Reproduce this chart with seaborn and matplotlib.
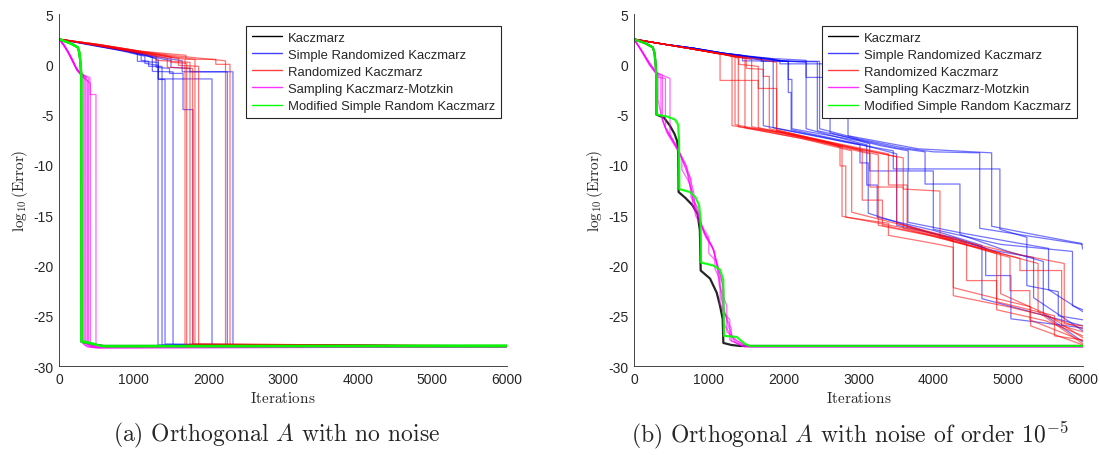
import pandas as pd
import matplotlib
matplotlib.use("Agg")
import matplotlib.pyplot as plt
import seaborn as sns
from matplotlib.lines import Line2D

sns.set_theme(style="white")
plt.rcParams["font.family"] = ["Liberation Sans", "DejaVu Sans"]
plt.rcParams["mathtext.fontset"] = "cm"
plt.rcParams["axes.unicode_minus"] = False

methods = ["Kaczmarz", "Simple Randomized Kaczmarz", "Randomized Kaczmarz",
           "Sampling Kaczmarz-Motzkin", "Modified Simple Random Kaczmarz"]
colors = ["black", "blue", "red", "magenta", "lime"]
x_ticks = [0, 1000, 2000, 3000, 4000, 5000, 6000]
y_ticks = [5, 0, -5, -10, -15, -20, -25, -30]

# ---- (a) no noise: each run is a list of (iteration, log10 error) vertices
left_kacz = [
    [(0, 2.5), (150, 2.1), (250, 1.7), (272, 1.2), (286, 0.2), (296, -0.9), (302, -27.6), (420, -27.8), (600, -28.0), (6000, -28.0)],
]
left_srk = [
    [(0, 2.5), (400, 2.0), (800, 1.5), (1050, 1.1), (1050, 0.3), (1326, 0.2), (1326, -27.9), (6000, -28.0)],
    [(0, 2.5), (400, 2.0), (800, 1.4), (1100, 0.9), (1100, 0.4), (1200, 0.3), (1200, -0.2), (1380, -0.2), (1380, -27.9), (6000, -28.0)],
    [(0, 2.5), (500, 1.8), (900, 1.3), (1150, 0.8), (1150, 0.1), (1330, -0.1), (1330, -1.5), (1420, -1.5), (1420, -27.8), (6000, -28.05)],
    [(0, 2.5), (500, 1.9), (1000, 1.2), (1250, 0.7), (1250, -0.7), (1527, -0.75), (1527, -27.9), (6000, -28.0)],
    [(0, 2.5), (500, 1.9), (1000, 1.3), (1300, 0.6), (1300, -0.3), (1480, -0.4), (1480, -0.9), (1661, -0.9), (1661, -4.5), (1795, -4.5), (1795, -27.9), (6000, -28.0)],
    [(0, 2.5), (500, 1.9), (1000, 1.2), (1330, 0.5), (1330, -1.45), (2049, -1.45), (2049, -27.9), (6000, -28.05)],
    [(0, 2.5), (600, 1.8), (1100, 1.1), (1400, 0.5), (1500, 0.4), (1500, -0.3), (1754, -0.4), (1754, -0.74), (2254, -0.74), (2254, -27.9), (6000, -28.0)],
    [(0, 2.5), (600, 1.7), (1150, 1.0), (1450, 0.6), (1650, 0.35), (1650, -0.74), (2330, -0.74), (2330, -27.9), (6000, -28.0)],
]
left_rk = [
    [(0, 2.5), (500, 1.9), (1000, 1.3), (1400, 0.8), (1688, 0.5), (1688, -27.9), (6000, -28.0)],
    [(0, 2.5), (500, 1.9), (1000, 1.3), (1400, 0.9), (1500, 0.7), (1500, 0.2), (1710, 0.1), (1710, -27.9), (6000, -28.05)],
    [(0, 2.5), (500, 2.0), (1000, 1.4), (1300, 0.9), (1300, 0.4), (1754, 0.2), (1754, -27.8), (6000, -28.0)],
    [(0, 2.5), (500, 1.9), (1000, 1.2), (1450, 0.6), (1450, -0.3), (1790, -0.4), (1790, -27.9), (6000, -28.0)],
    [(0, 2.5), (500, 2.0), (1000, 1.4), (1500, 0.8), (1821, 0.5), (1821, -27.8), (6000, -28.0)],
    [(0, 2.5), (500, 1.9), (1000, 1.3), (1600, 0.6), (1600, -0.1), (1870, -0.2), (1870, -27.9), (6000, -28.0)],
    [(0, 2.5), (500, 2.0), (1000, 1.4), (1500, 0.9), (1900, 0.6), (2230, 0.35), (2230, -27.9), (6000, -28.0)],
    [(0, 2.5), (600, 1.9), (1100, 1.3), (1700, 0.9), (1700, 0.5), (2100, 0.5), (2100, 0.0), (2290, 0.0), (2290, -27.9), (6000, -28.0)],
]
left_skm = [
    [(0, 2.5), (60, 2.0), (120, 1.3), (180, 0.5), (230, -0.3), (280, -0.8), (325, -1.0), (325, -27.8), (380, -28.1), (6000, -28.1)],
    [(0, 2.5), (60, 2.0), (120, 1.2), (180, 0.4), (230, -0.4), (290, -0.9), (345, -1.3), (345, -27.9), (420, -28.15), (6000, -28.1)],
    [(0, 2.5), (60, 1.9), (120, 1.2), (180, 0.3), (240, -0.5), (300, -0.9), (360, -1.2), (360, -27.8), (450, -28.1), (6000, -28.1)],
    [(0, 2.5), (60, 2.0), (120, 1.3), (180, 0.4), (240, -0.6), (300, -1.1), (380, -1.6), (380, -27.9), (480, -28.2), (6000, -28.1)],
    [(0, 2.5), (60, 2.0), (120, 1.2), (180, 0.4), (230, -0.4), (290, -1.0), (395, -1.4), (395, -27.8), (500, -28.1), (6000, -28.1)],
    [(0, 2.5), (60, 1.9), (120, 1.2), (180, 0.3), (240, -0.6), (310, -1.2), (420, -1.9), (420, -27.9), (520, -28.2), (6000, -28.1)],
    [(0, 2.5), (60, 2.0), (120, 1.3), (180, 0.4), (240, -0.5), (300, -1.0), (415, -1.3), (415, -3.0), (495, -3.0), (495, -27.9), (560, -28.1), (6000, -28.1)],
]
left_msrk = [
    [(0, 2.5), (150, 2.1), (250, 1.7), (272, 1.2), (286, 0.2), (296, -0.9), (300, -27.5), (430, -27.7), (560, -28.0), (6000, -27.95)],
    [(0, 2.5), (150, 2.1), (250, 1.7), (275, 1.1), (290, 0.0), (300, -1.0), (305, -27.6), (450, -27.8), (600, -28.05), (6000, -28.05)],
]

# ---- (b) noise of order 1e-5
right_kacz = [
    [(0, 2.5), (150, 2.1), (250, 1.7), (272, 1.2), (286, 0.3), (296, -0.9), (300, -5.0), (400, -5.3), (480, -6.1), (540, -6.9), (575, -7.6), (592, -8.6),
     (596, -12.7), (690, -13.3), (780, -14.0), (850, -14.9), (880, -16.5), (891, -20.5), (1016, -21.3), (1105, -22.7), (1149, -24.0),
     (1185, -25.3), (1194, -27.7), (1300, -27.9), (1416, -28.0), (6000, -28.0)],
]
right_srk = [
    [(0, 2.5), (400, 2.0), (800, 1.6), (1200, 1.1), (1500, 0.8), (1800, 0.5), (1950, 0.35), (1950, 0.05), (2860, 0.05), (2860, -7.1),
     (3800, -8.4), (4780, -8.8), (4780, -16.1), (5400, -17.0), (5900, -17.7), (5980, -17.8), (6000, -18.4)],
    [(0, 2.5), (400, 2.0), (800, 1.5), (1200, 1.1), (1450, 0.9), (1450, 0.35), (2480, 0.3), (2480, -6.4), (3000, -7.4), (3600, -8.3),
     (4000, -8.7), (4620, -8.8), (4620, -16.3), (5300, -17.1), (6000, -17.9)],
    [(0, 2.5), (400, 2.0), (800, 1.6), (1200, 1.1), (1700, 0.6), (1700, 0.3), (2060, 0.3), (2060, -1.5), (2110, -1.5), (2110, -6.4),
     (3000, -7.6), (3150, -7.9), (3150, -10.6), (3660, -10.6), (3660, -15.7), (4400, -16.8), (5000, -17.6), (5540, -18.3),
     (5540, -22.4), (6000, -24.6)],
    [(0, 2.5), (400, 2.0), (800, 1.6), (1200, 1.1), (1600, 0.7), (1860, 0.5), (1860, -6.3), (2800, -7.7), (3465, -8.6), (3465, -10.4),
     (4890, -10.4), (4890, -16.4), (5250, -17.2), (5250, -22.0), (5670, -22.6), (5670, -25.0), (6000, -25.4)],
    [(0, 2.5), (400, 2.0), (800, 1.5), (1200, 1.0), (1700, 0.5), (2300, 0.2), (2300, -6.4), (3000, -7.8), (3110, -8.0), (3110, -12.0),
     (3250, -12.0), (3250, -15.2), (4000, -16.5), (4650, -18.0), (4650, -23.3), (5100, -24.2), (5600, -25.2), (6000, -26.0)],
    [(0, 2.5), (400, 2.0), (800, 1.6), (1200, 1.0), (1500, 0.6), (1728, 0.4), (1728, -6.1), (2500, -7.2), (3020, -8.0), (3020, -9.8),
     (3130, -9.8), (3130, -14.8), (3900, -16.6), (4800, -18.5), (5340, -19.2), (5340, -23.2), (6000, -26.5)],
    [(0, 2.5), (400, 2.0), (800, 1.6), (1200, 1.1), (1800, 0.6), (2000, 0.3), (2450, 0.25), (2450, -6.6), (3500, -8.3), (3890, -8.7),
     (3890, -11.9), (4356, -11.9), (4356, -16.9), (5000, -18.6), (5470, -19.6), (5470, -24.8), (6000, -27.6)],
    [(0, 2.5), (400, 2.0), (800, 1.6), (1200, 1.1), (1600, 0.7), (2062, 0.3), (2062, -2.8), (2100, -2.8), (2100, -6.5), (3000, -7.9),
     (3510, -8.9), (3510, -16.0), (4300, -17.3), (4700, -18.3), (4700, -21.0), (5037, -21.0), (5037, -25.3), (6000, -26.2)],
    [(0, 2.5), (400, 2.0), (800, 1.6), (1200, 1.1), (1500, 0.8), (1800, 0.6), (2300, 0.4), (2300, -1.3), (2620, -1.3), (2620, -6.8),
     (3300, -8.1), (3665, -8.6), (3665, -10.6), (4000, -10.6), (4000, -16.4), (4900, -17.9), (5860, -18.6), (5860, -24.0), (6000, -24.4)],
]
right_rk = [
    [(0, 2.5), (400, 2.0), (800, 1.5), (1100, 1.1), (1310, 0.8), (1310, -6.1), (2000, -6.8), (2780, -8.2), (2780, -15.1), (3700, -16.4),
     (4267, -17.5), (4267, -23.0), (5000, -24.1), (5500, -25.0), (6000, -26.3)],
    [(0, 2.5), (400, 2.0), (800, 1.5), (1200, 1.0), (1394, 0.6), (1394, -6.2), (2200, -7.3), (2909, -8.6), (2909, -14.7), (3700, -16.2),
     (4445, -17.8), (4445, -21.5), (4846, -21.5), (4846, -24.4), (5500, -25.5), (6000, -27.0)],
    [(0, 2.5), (400, 2.0), (800, 1.5), (1150, 1.0), (1150, -1.6), (1483, -1.6), (1483, -6.3), (2400, -7.6), (3154, -8.9), (3154, -12.2),
     (3598, -12.2), (3598, -16.3), (4500, -18.1), (5025, -19.2), (5025, -22.5), (5290, -22.5), (5290, -25.4), (6000, -27.5)],
    [(0, 2.5), (400, 2.0), (800, 1.5), (1200, 1.0), (1572, 0.5), (1572, -6.2), (2500, -7.6), (3265, -9.0), (3265, -16.0), (4000, -17.1),
     (4800, -18.6), (5158, -19.3), (5158, -20.5), (5715, -20.5), (5715, -26.0), (6000, -26.6)],
    [(0, 2.5), (400, 2.0), (800, 1.5), (1200, 1.0), (1400, 0.7), (1400, 0.0), (1661, -0.2), (1661, -2.4), (1906, -2.4), (1906, -6.5),
     (2800, -8.1), (3510, -9.2), (3510, -15.8), (4300, -17.3), (4900, -18.8), (4900, -22.8), (5500, -24.8), (6000, -27.2)],
    [(0, 2.5), (400, 2.0), (800, 1.5), (1200, 1.0), (1500, 0.6), (1500, -0.4), (1728, -0.5), (1728, -1.2), (1808, -1.2), (1808, -6.4),
     (3000, -8.4), (3598, -9.3), (3598, -12.4), (4089, -12.6), (4089, -17.2), (4700, -18.4), (5400, -19.8), (5400, -24.6), (6000, -27.8)],
    [(0, 2.5), (400, 2.0), (800, 1.5), (1200, 1.0), (1350, 0.8), (1350, -6.0), (2200, -7.2), (3050, -8.6), (3050, -13.5), (3320, -13.5),
     (3320, -16.0), (4100, -17.2), (4846, -18.8), (4846, -23.6), (5620, -25.0), (5620, -27.0), (6000, -27.4)],
    [(0, 2.5), (400, 2.0), (800, 1.5), (1200, 1.0), (1600, 0.6), (1906, 0.2), (1906, -6.6), (2800, -8.0), (3400, -8.9), (3400, -12.0),
     (3650, -12.0), (3650, -16.2), (4400, -17.6), (5200, -19.0), (5750, -19.8), (5750, -25.8), (6000, -26.0)],
    [(0, 2.5), (400, 2.0), (800, 1.5), (1200, 1.0), (1483, 0.6), (1483, -1.6), (1661, -1.6), (1661, -6.3), (2600, -7.8), (2753, -8.2),
     (2753, -10.1), (2830, -10.1), (2830, -15.2), (3400, -15.8), (3400, -17.0), (4000, -17.8), (4267, -18.2), (4267, -22.2),
     (4800, -23.2), (5300, -24.1), (5300, -26.0), (6000, -27.9)],
]
right_skm = [
    [(0, 2.5), (100, 1.4), (200, 0.2), (280, -0.7), (320, -1.0), (320, -3.5), (370, -5.3), (440, -6.8), (570, -8.4), (700, -10.1),
     (750, -12.1), (840, -14.4), (930, -16.7), (1060, -18.4), (1130, -20.7), (1170, -23.3), (1260, -26.0), (1330, -27.3), (1500, -28.0), (6000, -28.0)],
    [(0, 2.5), (100, 1.3), (200, 0.0), (300, -0.9), (360, -1.2), (360, -5.0), (420, -6.3), (560, -8.0), (640, -9.3), (640, -10.5),
     (720, -11.5), (780, -12.6), (780, -14.0), (880, -15.5), (960, -17.2), (1080, -18.6), (1080, -20.3), (1150, -21.4), (1150, -23.8),
     (1230, -25.1), (1300, -26.3), (1300, -27.5), (1480, -28.1), (6000, -28.1)],
    [(0, 2.5), (110, 1.2), (220, -0.2), (330, -1.3), (420, -1.4), (420, -6.3), (500, -7.3), (620, -9.0), (700, -10.6), (760, -11.4),
     (760, -13.2), (850, -14.2), (900, -16.0), (1000, -17.2), (1000, -18.8), (1100, -19.6), (1180, -21.6), (1180, -24.5), (1280, -25.4),
     (1280, -27.4), (1450, -28.0), (6000, -28.0)],
    [(0, 2.5), (100, 1.4), (210, 0.1), (300, -0.8), (380, -1.1), (380, -5.6), (460, -7.0), (600, -8.6), (680, -9.8), (740, -11.0),
     (800, -12.8), (820, -15.0), (920, -16.4), (1040, -18.0), (1100, -19.5), (1140, -22.0), (1240, -24.0), (1240, -26.6), (1380, -27.5),
     (1550, -28.1), (6000, -28.1)],
    [(0, 2.5), (90, 1.5), (190, 0.3), (290, -0.8), (481, -1.4), (481, -7.0), (560, -8.1), (700, -10.4), (790, -13.6), (860, -15.0),
     (950, -16.9), (1050, -18.2), (1120, -20.0), (1200, -22.4), (1200, -25.8), (1350, -27.6), (1500, -28.05), (6000, -28.05)],
]
right_msrk = [
    [(0, 2.5), (150, 2.1), (250, 1.7), (272, 1.2), (286, 0.3), (296, -0.9), (301, -5.0), (450, -5.2), (550, -5.5), (590, -6.0),
     (601, -7.5), (605, -12.4), (750, -12.7), (820, -13.2), (870, -14.0), (890, -15.5), (895, -19.7), (1060, -20.0), (1149, -20.4),
     (1193, -21.4), (1203, -27.0), (1372, -27.1), (1483, -27.8), (1550, -28.0), (6000, -28.0)],
]

left_runs = [left_kacz, left_srk, left_rk, left_skm, left_msrk]
right_runs = [right_kacz, right_srk, right_rk, right_skm, right_msrk]
line_w = [1.6, 0.9, 0.9, 0.9, 1.6]
line_a = [0.85, 0.55, 0.55, 0.6, 0.9]


def to_frame(runs_per_method):
    rows = []
    for method, runs in zip(methods, runs_per_method):
        for k, run in enumerate(runs):
            for x, y in run:
                rows.append((method, k, x, y))
    return pd.DataFrame(rows, columns=["method", "run", "x", "y"])


def draw(ax, runs_per_method):
    df = to_frame(runs_per_method)
    for method, c, lw, a in zip(methods, colors, line_w, line_a):
        sub = df[df["method"] == method]
        sns.lineplot(data=sub, x="x", y="y", units="run", estimator=None, sort=False,
                     color=c, lw=lw, alpha=a, ax=ax, legend=False)
    ax.set_xlim(0, 6000)
    ax.set_ylim(-30, 5)
    ax.set_xticks(x_ticks)
    ax.set_yticks(y_ticks)
    ax.tick_params(direction="in", length=3.5, width=0.6, colors="#262626", labelsize=10, pad=4)
    for s in ["top", "right"]:
        ax.spines[s].set_visible(False)
    for s in ["left", "bottom"]:
        ax.spines[s].set_color("#262626")
        ax.spines[s].set_linewidth(0.6)
    ax.set_xlabel(r"$\mathrm{Iterations}$", fontsize=11, color="#262626", labelpad=3)
    ax.set_ylabel(r"$\log_{10}(\mathrm{Error})$", fontsize=11, color="#262626", labelpad=2)
    handles = [Line2D([], [], color=c, lw=1.0, alpha=min(a + 0.2, 1)) for c, a in zip(colors, line_a)]
    leg = ax.legend(handles, methods, loc="upper right", bbox_to_anchor=(0.986, 0.967), borderaxespad=0,
                    fontsize=9.4, frameon=True, fancybox=False, framealpha=1, edgecolor="#262626",
                    handlelength=2.3, handletextpad=0.4, labelspacing=0.38, borderpad=0.45)
    leg.get_frame().set_linewidth(0.8)
    for t in leg.get_texts():
        t.set_color("#262626")


fig = plt.figure(figsize=(10.99, 4.56), dpi=100)
ax1 = fig.add_axes([0.0537, 0.195, 0.4076, 0.772])
ax2 = fig.add_axes([0.5769, 0.195, 0.4085, 0.772])
draw(ax1, left_runs)
draw(ax2, right_runs)

fig.text(0.252, 0.046, r"(a) Orthogonal $A$ with no noise", ha="center", va="center",
         fontsize=17, family="cmr10")
fig.text(0.773, 0.046, r"(b) Orthogonal $A$ with noise of order $10^{-5}$", ha="center", va="center",
         fontsize=17, family="cmr10")

fig.savefig("out.png", dpi=100, facecolor="white")
